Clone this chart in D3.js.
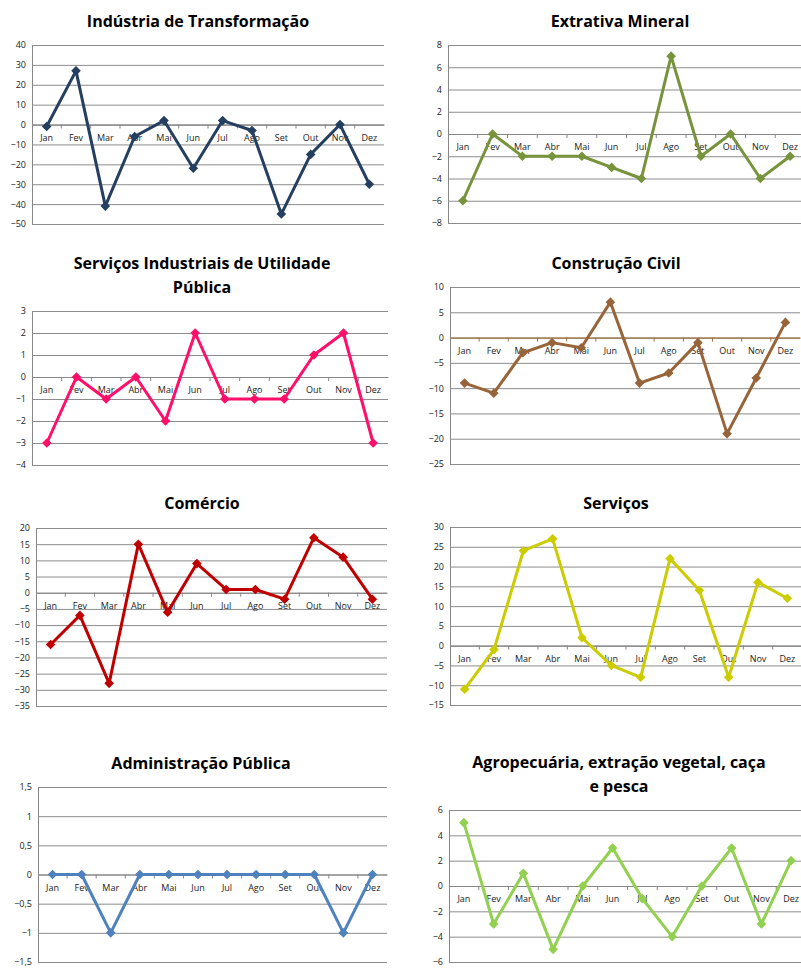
<!DOCTYPE html>
<html>
<head>
<meta charset="utf-8">
<script src="https://cdn.jsdelivr.net/npm/d3@7"></script>
<style>
  body { margin: 0; background: #fff; }
  svg { display: block; }
</style>
</head>
<body>
<div id="chart"></div>
<script>

const WIDTH = 801;
const HEIGHT = 968;

// Month labels.
const months = ["Jan","Fev","Mar","Abr","Mai","Jun","Jul","Ago","Set","Out","Nov","Dez"];

// Series values.
const industria  = [-1, 27, -41, -6, 2, -22, 2, -3, -45, -15, 0, -30];
const extrativa  = [-6, 0, -2, -2, -2, -3, -4, 7, -2, 0, -4, -2];
const siup       = [-3, 0, -1, 0, -2, 2, -1, -1, -1, 1, 2, -3];
const construcao = [-9, -11, -3, -1, -2, 7, -9, -7, -1, -19, -8, 3];
const comercio   = [-16, -7, -28, 15, -6, 9, 1, 1, -2, 17, 11, -2];
const servicos   = [-11, -1, 24, 27, 2, -5, -8, 22, 14, -8, 16, 12];
const admin      = [0, 0, -1, 0, 0, 0, 0, 0, 0, 0, -1, 0];
const agro       = [5, -3, 1, -5, 0, 3, -1, -4, 0, 3, -3, 2];

// Titles (lines).
const titles = [
  ["Indústria de Transformação"],
  ["Extrativa Mineral"],
  ["Serviços Industriais de Utilidade", "Pública"],
  ["Construção Civil"],
  ["Comércio"],
  ["Serviços"],
  ["Administração Pública"],
  ["Agropecuária, extração vegetal, caça", "e pesca"]
];

// Y axis tick values.
const ticks1 = [40, 30, 20, 10, 0, -10, -20, -30, -40, -50];
const ticks2 = [8, 6, 4, 2, 0, -2, -4, -6, -8];
const ticks3 = [3, 2, 1, 0, -1, -2, -3, -4];
const ticks4 = [10, 5, 0, -5, -10, -15, -20, -25];
const ticks5 = [20, 15, 10, 5, 0, -5, -10, -15, -20, -25, -30, -35];
const ticks6 = [30, 25, 20, 15, 10, 5, 0, -5, -10, -15];
const ticks7 = [1.5, 1, 0.5, 0, -0.5, -1, -1.5];
const ticks8 = [6, 4, 2, 0, -2, -4, -6];

const seriesList = [industria, extrativa, siup, construcao, comercio, servicos, admin, agro];
const tickList = [ticks1, ticks2, ticks3, ticks4, ticks5, ticks6, ticks7, ticks8];
const colors = ["#243f60", "#77933c", "#ff0f6a", "#98643a", "#c00000", "#cccc00", "#4f81bd", "#92d050"];

// Layout: plot box and title position for each panel.
const layout = [
  {left: 32,  top: 45,  right: 384, bottom: 224, tx: 198, ty: 27},
  {left: 448, top: 45,  right: 805, bottom: 223, tx: 620, ty: 27},
  {left: 32,  top: 311, right: 388, bottom: 465, tx: 202, ty: 269},
  {left: 450, top: 287, right: 800, bottom: 464, tx: 616, ty: 269},
  {left: 36,  top: 528, right: 387, bottom: 706, tx: 202, ty: 509},
  {left: 450, top: 527, right: 802, bottom: 705, tx: 616, ty: 509},
  {left: 38,  top: 787, right: 387, bottom: 962, tx: 201, ty: 769},
  {left: 449, top: 810, right: 806, bottom: 962, tx: 619, ty: 768}
];

const fmt = d3.formatLocale({decimal: ",", thousands: ".", grouping: [3], currency: ["", ""]}).format("~g");

var svg = d3.select("#chart").append("svg")
            .attr("width", WIDTH)
            .attr("height", HEIGHT);

seriesList.forEach(function (values, i) {
    var L = layout[i];
    var tks = tickList[i];
    var g = svg.append("g");

    var x = d3.scaleBand().domain(months).range([L.left, L.right]);
    var y = d3.scaleLinear().domain([d3.min(tks), d3.max(tks)]).range([L.bottom, L.top]);

    // title
    titles[i].forEach(function (t, k) {
        g.append("text")
         .attr("x", L.tx)
         .attr("y", L.ty + k * 24)
         .attr("text-anchor", "middle")
         .attr("font-family", "Open Sans, sans-serif")
         .attr("font-weight", "bold")
         .attr("font-size", "16px")
         .attr("fill", "#000")
         .text(t);
    });

    // gridlines
    var grid = d3.axisLeft(y).tickValues(tks).tickSize(-(L.right - L.left)).tickFormat(fmt);
    var ga = g.append("g").attr("transform", "translate(" + L.left + ",0)").call(grid);
    ga.select(".domain").attr("stroke", "#868686");
    ga.selectAll(".tick line").attr("stroke", "#8c8c8c").attr("stroke-width", 1);
    ga.selectAll(".tick text")
      .attr("x", -6)
      .attr("font-family", "Open Sans, sans-serif")
      .attr("font-size", "9px")
      .attr("fill", "#222");

    // category axis at zero
    var axisColor = (i === 3) ? "#a0703c" : "#868686";
    var xa = d3.axisBottom(x).tickSize(0).tickPadding(10);
    var gx = g.append("g").attr("transform", "translate(0," + y(0) + ")").call(xa);
    gx.select(".domain").attr("stroke", axisColor).attr("stroke-width", 1.2);
    gx.selectAll(".tick text")
      .attr("font-family", "Open Sans, sans-serif")
      .attr("font-size", "9px")
      .attr("fill", "#222");
    g.selectAll(".cattick")
     .data(months.slice(1))
     .enter()
     .append("line")
     .attr("x1", function (d) { return x(d); })
     .attr("x2", function (d) { return x(d); })
     .attr("y1", y(0))
     .attr("y2", y(0) + 4)
     .attr("stroke", axisColor);

    // line
    var line = d3.line()
                 .x(function (d, j) { return x(months[j]) + x.bandwidth() / 2; })
                 .y(function (d) { return y(d); });
    g.append("path")
     .datum(values)
     .attr("d", line)
     .attr("fill", "none")
     .attr("stroke", colors[i])
     .attr("stroke-width", 3)
     .attr("stroke-linejoin", "round");

    // markers
    g.selectAll(".marker")
     .data(values)
     .enter()
     .append("path")
     .attr("d", d3.symbol().type(d3.symbolSquare).size(28))
     .attr("transform", function (d, j) {
         return "translate(" + (x(months[j]) + x.bandwidth() / 2) + "," + y(d) + ") rotate(45)";
     })
     .attr("fill", colors[i])
     .attr("stroke", colors[i])
     .attr("stroke-width", 1.5);
});

</script>
</body>
</html>
